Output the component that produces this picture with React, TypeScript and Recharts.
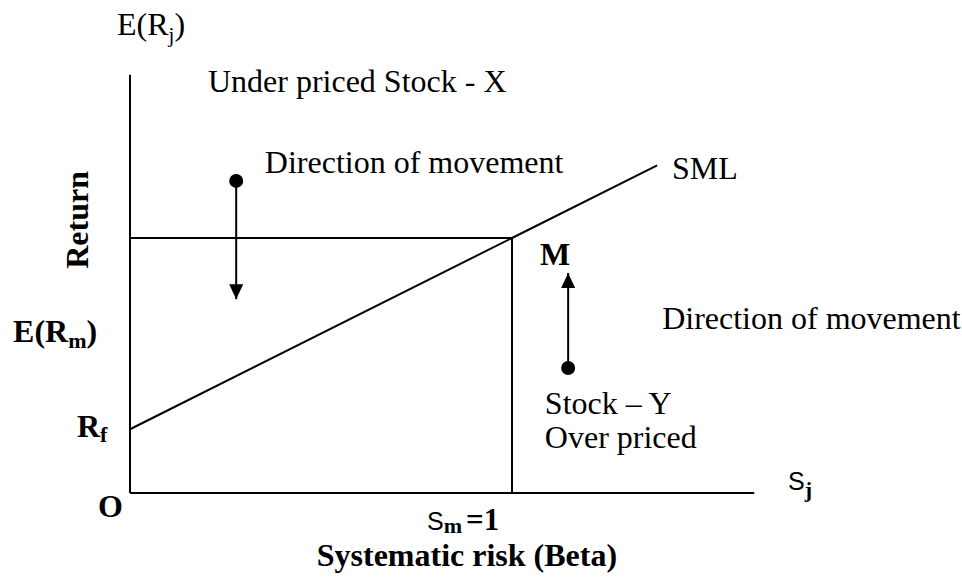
import { ComposedChart, Line, Scatter, XAxis, YAxis, ReferenceDot } from 'recharts';

// Security market line: beta on x, expected return on y (E(Rm) = 10, Rf = 2.5)
const smlBeta = [0, 1, 1.38];
const smlReturn = [2.5, 10, 12.85];

const marketBeta = 1;
const marketReturn = 10;

const axisEndBeta = 1.634;
const axisEndReturn = 16.4;

// Stock X sits above the SML and moves down, stock Y sits below and moves up
const stockBeta = [0.278, 1.147];
const stockStart = [12.24, 4.9];
const stockEnd = [7.6, 8.63];

const SERIF = '"Liberation Serif", "Times New Roman", serif';
const SANS = '"Liberation Sans", Arial, sans-serif';

const smlData = smlBeta.map((b, i) => ({ x: b, y: smlReturn[i] }));
const hLine = [{ x: 0, y: marketReturn }, { x: marketBeta, y: marketReturn }];
const vLine = [{ x: marketBeta, y: 0 }, { x: marketBeta, y: marketReturn }];
const xAxisLine = [{ x: 0, y: 0 }, { x: axisEndBeta, y: 0 }];
const yAxisLine = [{ x: 0, y: 0 }, { x: 0, y: axisEndReturn }];

const dots = stockBeta.map((b, i) => ({ x: b, y: stockStart[i] }));
const heads = stockBeta.map((b, i) => ({ x: b, y: stockEnd[i], up: stockEnd[i] > stockStart[i] }));
const shafts = stockBeta.map((b, i) => [{ x: b, y: stockStart[i] }, { x: b, y: stockEnd[i] }]);

type Lbl = { x: number; y: number; key: string };
const labels: Lbl[] = [
  { x: -0.034, y: 17.96, key: 'erj' },
  { x: 0.204, y: 15.73, key: 'under' },
  { x: 0.353, y: 12.55, key: 'dir1' },
  { x: 1.419, y: 12.31, key: 'sml' },
  { x: 1.393, y: 6.43, key: 'dir2' },
  { x: 1.086, y: 3.1, key: 'stocky' },
  { x: 1.086, y: 1.765, key: 'over' },
  { x: 1.073, y: 8.94, key: 'm' },
  { x: -0.306, y: 5.92, key: 'erm' },
  { x: -0.139, y: 2.196, key: 'rf' },
  { x: -0.0838, y: -0.941, key: 'o' },
  { x: -0.11, y: 10.71, key: 'return' },
  { x: 1.7225, y: 0.118, key: 'sj' },
  { x: 0.7775, y: -1.451, key: 'sm' },
  { x: 0.882, y: -2.86, key: 'beta' },
];

function renderLabel(key: string, cx: number, cy: number) {
  const base = { fontFamily: SERIF, fontSize: 32, fill: '#000' };
  switch (key) {
    case 'erj':
      return (
        <text x={cx} y={cy} {...base}>
          E(R<tspan dy={7} fontSize={21}>j</tspan><tspan dy={-7}>)</tspan>
        </text>
      );
    case 'under':
      return <text x={cx} y={cy} {...base}>Under priced Stock - X</text>;
    case 'dir1':
    case 'dir2':
      return <text x={cx} y={cy} {...base}>Direction of movement</text>;
    case 'sml':
      return <text x={cx} y={cy} {...base}>SML</text>;
    case 'stocky':
      return <text x={cx} y={cy} {...base}>Stock – Y</text>;
    case 'over':
      return <text x={cx} y={cy} {...base}>Over priced</text>;
    case 'm':
      return <text x={cx} y={cy} {...base} fontWeight="bold">M</text>;
    case 'erm':
      return (
        <text x={cx} y={cy} {...base} fontWeight="bold">
          E(R<tspan dy={6} fontSize={22}>m</tspan><tspan dy={-6}>)</tspan>
        </text>
      );
    case 'rf':
      return (
        <text x={cx} y={cy} {...base} fontWeight="bold">
          R<tspan dy={5} fontSize={22}>f</tspan>
        </text>
      );
    case 'o':
      return <text x={cx} y={cy} {...base} fontWeight="bold">O</text>;
    case 'return':
      return (
        <text x={cx} y={cy} {...base} fontWeight="bold" textAnchor="middle" transform={`rotate(-90 ${cx} ${cy})`}>
          Return
        </text>
      );
    case 'sj':
      return (
        <text x={cx} y={cy} fontFamily={SANS} fontSize={25} fill="#000">
          S<tspan dy={7} fontFamily={SERIF} fontWeight="bold" fontSize={22}>j</tspan>
        </text>
      );
    case 'sm':
      return (
        <text x={cx} y={cy} fontFamily={SANS} fontSize={25} fill="#000">
          S<tspan dy={3} fontFamily={SERIF} fontWeight="bold" fontSize={22}>m</tspan>
          <tspan dy={-3} dx={4} fontFamily={SERIF} fontWeight="bold" fontSize={31}>=1</tspan>
        </text>
      );
    case 'beta':
      return (
        <text x={cx} y={cy} {...base} fontWeight="bold" textAnchor="middle">
          Systematic risk (Beta)
        </text>
      );
    default:
      return <g />;
  }
}

export default function App() {
  return (
    <div style={{ position: 'absolute', left: 0, top: 0, background: '#fff' }}>
      <ComposedChart width={962} height={577} margin={{ top: 0, right: 0, bottom: 0, left: 0 }}>
        <XAxis type="number" dataKey="x" domain={[-0.3403, 2.178]} hide allowDataOverflow />
        <YAxis type="number" dataKey="y" domain={[-3.294, 19.333]} hide allowDataOverflow />
        {[xAxisLine, yAxisLine, hLine, vLine, smlData, ...shafts].map((d, i) => (
          <Line
            key={i}
            data={d}
            dataKey="y"
            type="linear"
            stroke="#000"
            strokeWidth={2}
            dot={false}
            activeDot={false}
            isAnimationActive={false}
          />
        ))}
        <Scatter
          data={dots}
          isAnimationActive={false}
          shape={(p: any) => <circle cx={p.cx} cy={p.cy} r={7} fill="#000" />}
        />
        <Scatter
          data={heads}
          isAnimationActive={false}
          shape={(p: any) => {
            const s = p.payload.up ? 1 : -1;
            return (
              <polygon
                points={`${p.cx},${p.cy} ${p.cx - 7},${p.cy + s * 15} ${p.cx + 7},${p.cy + s * 15}`}
                fill="#000"
              />
            );
          }}
        />
        {labels.map((l) => (
          <ReferenceDot
            key={l.key}
            x={l.x}
            y={l.y}
            r={0}
            ifOverflow="visible"
            shape={(p: any) => renderLabel(l.key, p.cx, p.cy)}
          />
        ))}
      </ComposedChart>
    </div>
  );
}
